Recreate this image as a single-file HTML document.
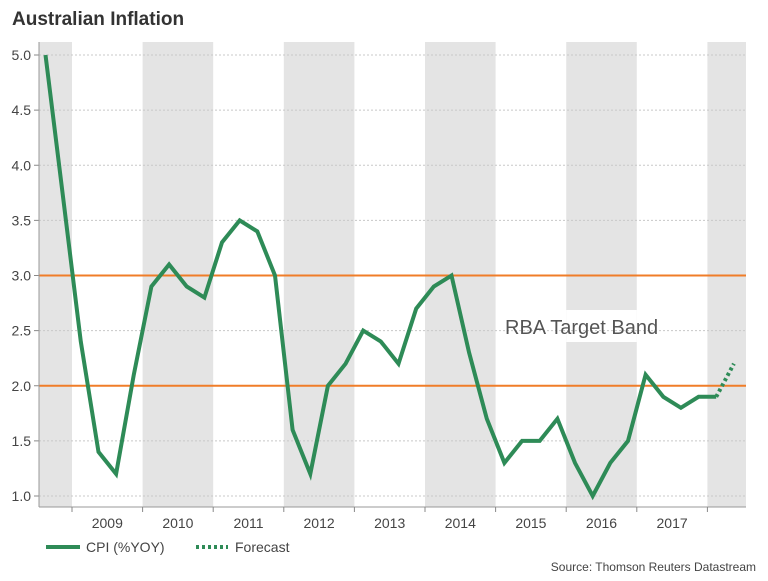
<!DOCTYPE html>
<html><head><meta charset="utf-8"><style>
body{margin:0;background:#fff;font-family:"Liberation Sans",sans-serif}
svg text{font-family:"Liberation Sans",sans-serif}
</style></head><body>
<svg id="c" width="768" height="576" xmlns="http://www.w3.org/2000/svg">
<text x="12" y="25" font-size="19" font-weight="bold" fill="#333">Australian Inflation</text>
<g id="bands"></g><g id="grid"></g><g id="axes"></g><g id="series"></g>
<text x="505" y="334" font-size="20" fill="#555">RBA Target Band</text>
<g>
<line x1="46" y1="547" x2="80" y2="547" stroke="#2e8b57" stroke-width="4"/>
<text x="86" y="552" font-size="14" fill="#444">CPI (%YOY)</text>
<line x1="196" y1="547" x2="228" y2="547" stroke="#2e8b57" stroke-width="4" stroke-dasharray="3,3"/>
<text x="235" y="552" font-size="14" fill="#444">Forecast</text>
</g>
<text x="756" y="571" font-size="12" fill="#444" text-anchor="end">Source: Thomson Reuters Datastream</text>
</svg>
<script>
const yTicks=[1.0,1.5,2.0,2.5,3.0,3.5,4.0,4.5,5.0];
const years=[2009,2010,2011,2012,2013,2014,2015,2016,2017];
const cpi=[5.0,3.7,2.4,1.4,1.2,2.1,2.9,3.1,2.9,2.8,3.3,3.5,3.4,3.0,1.6,1.2,2.0,2.2,2.5,2.4,2.2,2.7,2.9,3.0,2.3,1.7,1.3,1.5,1.5,1.7,1.3,1.0,1.3,1.5,2.1,1.9,1.8,1.9,1.9];
const forecast=[1.9,2.2];
const targetBand=[2.0,3.0];
const startYear=2008.5;
const NS='http://www.w3.org/2000/svg';
const L=39,R=746,T=42,B=507;
const x0=1.4,yw=70.6;
const X=t=>x0+(t-2008)*yw;
const Y=v=>496-(v-1)*110.25;
function mk(p,tag,a){const e=document.createElementNS(NS,tag);for(const k in a)e.setAttribute(k,a[k]);document.getElementById(p).appendChild(e);return e;}
// bands
for(let yr=2008;yr<=2018;yr+=2){
 const a=Math.max(L,X(yr)),b=Math.min(R,X(yr+1));
 const r=mk('bands','rect',{x:a,y:T,width:b-a,height:B-T,fill:'#e4e4e4'});
 
 
}
// label background gap
const gap=mk('bands','rect',{x:X(2016),y:310,width:yw,height:32,fill:'#fff'});


yTicks.forEach(v=>{
 const g=mk('grid','line',{x1:L,x2:R,y1:Y(v),y2:Y(v),stroke:'#c8c8c8','stroke-dasharray':'2,2'});
 
 
 mk('grid','line',{x1:L-5,x2:L,y1:Y(v),y2:Y(v),stroke:'#888'});
 const t=mk('grid','text',{x:L-8,y:Y(v)+5,'font-size':14,fill:'#444','text-anchor':'end'});
 t.textContent=v.toFixed(1);
 
 
});
targetBand.forEach(v=>{
 const l=mk('grid','line',{x1:L,x2:R,y1:Y(v),y2:Y(v),stroke:'#f07d28','stroke-width':2});
 
 
});
mk('axes','line',{x1:L,x2:L,y1:T,y2:B,stroke:'#999'});
mk('axes','line',{x1:L,x2:R,y1:B,y2:B,stroke:'#999'});
years.forEach(yr=>{
 mk('axes','line',{x1:X(yr),x2:X(yr),y1:B,y2:B+5,stroke:'#888'});
 const t=mk('axes','text',{x:X(yr+0.5),y:528,'font-size':14,fill:'#444','text-anchor':'middle'});
 t.textContent=yr;
 
 
});
mk('axes','line',{x1:X(2018),x2:X(2018),y1:B,y2:B+5,stroke:'#888'});
const px=i=>X(startYear+0.125+i*0.25);
const p=cpi.map((v,i)=>px(i).toFixed(1)+','+Y(v).toFixed(1)).join(' ');
const ln=mk('series','polyline',{points:p,fill:'none',stroke:'#2e8b57','stroke-width':4,'stroke-linejoin':'miter'});


const fp=forecast.map((v,i)=>px(cpi.length-1+i).toFixed(1)+','+Y(v).toFixed(1)).join(' ');
const fl=mk('series','polyline',{points:fp,fill:'none',stroke:'#2e8b57','stroke-width':4,'stroke-dasharray':'3,3'});


</script>
</body></html>
